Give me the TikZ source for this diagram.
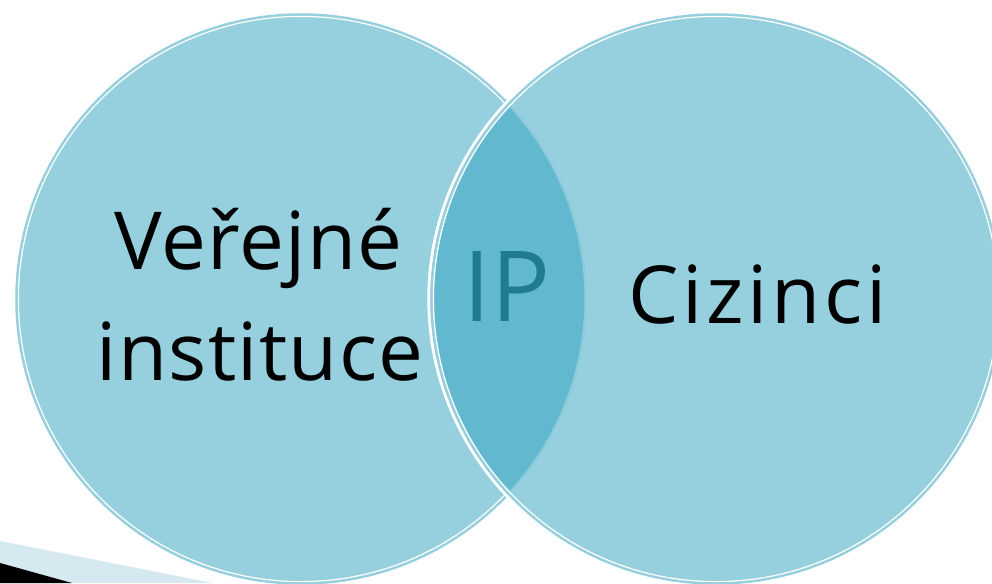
\documentclass[tikz,border=0pt]{standalone}
\usepackage{fontspec}
\setmainfont{Open Sans}
\newfontfamily\vtfont[LetterSpace=1.6]{Open Sans}
\newfontfamily\cizfont[LetterSpace=4.6]{Open Sans}
\definecolor{cfill}{HTML}{96CFDD}
\definecolor{cdark}{HTML}{62B8CF}
\definecolor{cip}{HTML}{217B8E}
\definecolor{cband}{HTML}{D6E9F0}
\definecolor{carc}{HTML}{8FCCDC}
\tikzset{
  vtext/.style={anchor=base, inner sep=0pt, text=black, font=\vtfont\fontsize{80}{96}\selectfont},
}
\begin{document}
\begin{tikzpicture}[x=1pt,y=-1pt]
\clip (0,0) rectangle (992,583);
\fill[white] (0,0) rectangle (992,583);
% bottom-left decoration
\fill[cband] (0,541) -- (213,583) -- (0,583) -- cycle;
\fill[black] (0,563) -- (72,583) -- (0,583) -- cycle;
% circle centres
\coordinate (L) at (301,299);
\coordinate (R) at (716,299);
% left circle
\fill[cfill] (L) circle[radius=285pt];
\draw[cfill, line width=1.5pt] (L) circle[radius=285pt];
\draw[white, line width=1.2pt] (L) circle[radius=282.6pt];
% right circle with white outer stroke
\draw[white, line width=3pt] (R) circle[radius=287.2pt];
\fill[cfill] (R) circle[radius=285pt];
\draw[cfill, line width=1.5pt] (R) circle[radius=285pt];
% overlap
\begin{scope}
  \clip (R) circle[radius=281.8pt];
  \fill[cdark] (L) circle[radius=285pt];
  \draw[carc, line width=1.6pt] (L) circle[radius=284.2pt];
\end{scope}
\draw[white, line width=1.2pt] (R) circle[radius=282.6pt];
% texts
\node[vtext] (vt1) at (258.5,269) {Veřejné};
\node[vtext] (vt2) at (260,380) {instituce};
\node[anchor=base, inner sep=0pt, text=cip, font=\fontsize{98}{110}\selectfont] (ip) at (507,321) {IP};
\node[anchor=base, inner sep=0pt, text=black, font=\cizfont\fontsize{80}{96}\selectfont] (ciz) at (757.5,323) {Cizinci};
\end{tikzpicture}
\end{document}
